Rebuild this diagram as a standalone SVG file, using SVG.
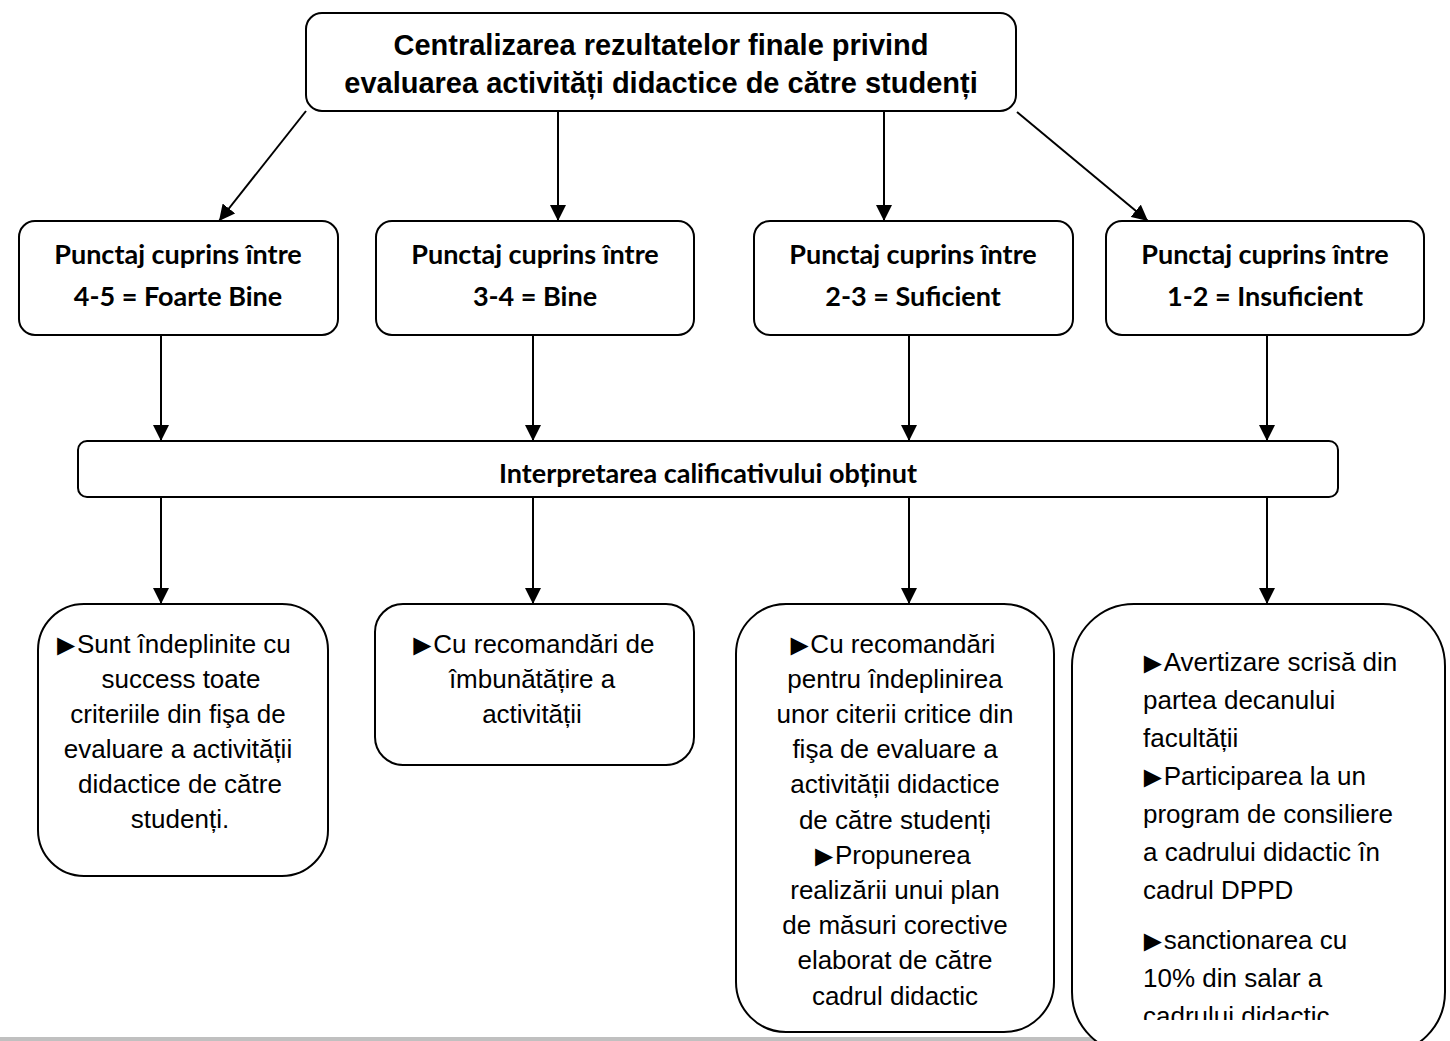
<svg xmlns="http://www.w3.org/2000/svg" width="1450" height="1041" viewBox="0 0 1450 1041">
<style>
.box{fill:#fff;stroke:#000;stroke-width:2}
.cal{font-family:Lato,"Noto Sans",sans-serif;font-weight:700;font-size:27px;fill:#000;text-anchor:middle}
.ttl{font-family:"Liberation Sans",Arial,sans-serif;font-weight:700;font-size:29px;fill:#000;text-anchor:middle}
.txt{font-family:"Liberation Sans",Arial,sans-serif;font-size:26px;fill:#000}
.c{text-anchor:middle}
.b{font-family:"Noto Sans CJK SC",sans-serif;font-size:30px}
.conn line{stroke:#000;stroke-width:2}
</style>
<defs>
<marker id="ah" markerUnits="userSpaceOnUse" markerWidth="16" markerHeight="16" viewBox="0 0 10 10" refX="10" refY="5" orient="auto">
<path d="M0,0 L10,5 L0,10 z" fill="#000"/>
</marker>
<clipPath id="clipD"><rect x="1080" y="600" width="360" height="420"/></clipPath>
</defs>
<rect x="0" y="1037" width="1103" height="4" fill="#c0c0c0"/>

<g id="top">
<rect class="box" x="306" y="13" width="710" height="98" rx="16"/>
<text class="ttl" x="661" y="55">Centralizarea rezultatelor finale privind</text>
<text class="ttl" x="661" y="93">evaluarea activități didactice de către studenți</text>
</g>

<g id="p1">
<rect class="box" x="19" y="221" width="319" height="114" rx="16"/>
<text class="cal" x="178" y="264">Punctaj cuprins între</text>
<text class="cal" x="178" y="306">4-5 = Foarte Bine</text>
</g>
<g id="p2">
<rect class="box" x="376" y="221" width="318" height="114" rx="16"/>
<text class="cal" x="535" y="264">Punctaj cuprins între</text>
<text class="cal" x="535" y="306">3-4 = Bine</text>
</g>
<g id="p3">
<rect class="box" x="754" y="221" width="319" height="114" rx="16"/>
<text class="cal" x="913" y="264">Punctaj cuprins între</text>
<text class="cal" x="913" y="306">2-3 = Suficient</text>
</g>
<g id="p4">
<rect class="box" x="1106" y="221" width="318" height="114" rx="16"/>
<text class="cal" x="1265" y="264">Punctaj cuprins între</text>
<text class="cal" x="1265" y="306">1-2 = Insuficient</text>
</g>

<g id="interp">
<rect class="box" x="78" y="441" width="1260" height="56" rx="9"/>
<text class="cal" x="708" y="483">Interpretarea calificativului obținut</text>
</g>

<g id="r1">
<rect class="box" x="38" y="604" width="290" height="272" rx="46"/>
<text class="txt c" x="176" y="653"><tspan class="b" dx="-5" dy="2">►</tspan><tspan dx="-4" dy="-2">Sunt îndeplinite cu</tspan></text>
<text class="txt c" x="181" y="688">success toate</text>
<text class="txt c" x="178" y="723">criteriile din fişa de</text>
<text class="txt c" x="178" y="758">evaluare a activității</text>
<text class="txt c" x="180" y="793">didactice de către</text>
<text class="txt c" x="180" y="828">studenți.</text>
</g>
<g id="r2">
<rect class="box" x="375" y="604" width="319" height="161" rx="28"/>
<text class="txt c" x="536" y="653"><tspan class="b" dx="-5" dy="2">►</tspan><tspan dx="-4" dy="-2">Cu recomandări de</tspan></text>
<text class="txt c" x="532" y="688">îmbunătățire a</text>
<text class="txt c" x="532" y="723">activității</text>
</g>
<g id="r3">
<rect class="box" x="736" y="604" width="318" height="428" rx="50"/>
<text class="txt c" x="895" y="653"><tspan class="b" dx="-5" dy="2">►</tspan><tspan dx="-4" dy="-2">Cu recomandări</tspan></text>
<text class="txt c" x="895" y="688">pentru îndeplinirea</text>
<text class="txt c" x="895" y="723">unor citerii critice din</text>
<text class="txt c" x="895" y="758">fişa de evaluare a</text>
<text class="txt c" x="895" y="793">activității didactice</text>
<text class="txt c" x="895" y="829">de către studenți</text>
<text class="txt c" x="895" y="864"><tspan class="b" dx="-5" dy="2">►</tspan><tspan dx="-4" dy="-2">Propunerea</tspan></text>
<text class="txt c" x="895" y="899">realizării unui plan</text>
<text class="txt c" x="895" y="934">de măsuri corective</text>
<text class="txt c" x="895" y="969">elaborat de către</text>
<text class="txt c" x="895" y="1005">cadrul didactic</text>
</g>
<g id="r4">
<rect class="box" x="1072" y="604" width="373" height="450" rx="62"/>
<g clip-path="url(#clipD)">
<text class="txt" x="1143" y="671"><tspan class="b" dx="-5" dy="2">►</tspan><tspan dx="-4" dy="-2">Avertizare scrisă din</tspan></text>
<text class="txt" x="1143" y="709">partea decanului</text>
<text class="txt" x="1143" y="747">facultății</text>
<text class="txt" x="1143" y="785"><tspan class="b" dx="-5" dy="2">►</tspan><tspan dx="-4" dy="-2">Participarea la un</tspan></text>
<text class="txt" x="1143" y="823">program de consiliere</text>
<text class="txt" x="1143" y="861">a cadrului didactic în</text>
<text class="txt" x="1143" y="899">cadrul DPPD</text>
<text class="txt" x="1143" y="949"><tspan class="b" dx="-5" dy="2">►</tspan><tspan dx="-4" dy="-2">sanctionarea cu</tspan></text>
<text class="txt" x="1143" y="987">10% din salar a</text>
<text class="txt" x="1143" y="1025">cadrului didactic</text>
</g>
</g>

<g id="connectors" class="conn">
<line x1="306" y1="111" x2="219" y2="221" marker-end="url(#ah)"/>
<line x1="558" y1="111" x2="558" y2="221" marker-end="url(#ah)"/>
<line x1="884" y1="111" x2="884" y2="221" marker-end="url(#ah)"/>
<line x1="1017" y1="112" x2="1148" y2="221" marker-end="url(#ah)"/>
<line x1="161" y1="335" x2="161" y2="441" marker-end="url(#ah)"/>
<line x1="533" y1="335" x2="533" y2="441" marker-end="url(#ah)"/>
<line x1="909" y1="335" x2="909" y2="441" marker-end="url(#ah)"/>
<line x1="1267" y1="335" x2="1267" y2="441" marker-end="url(#ah)"/>
<line x1="161" y1="497" x2="161" y2="604" marker-end="url(#ah)"/>
<line x1="533" y1="497" x2="533" y2="604" marker-end="url(#ah)"/>
<line x1="909" y1="497" x2="909" y2="604" marker-end="url(#ah)"/>
<line x1="1267" y1="497" x2="1267" y2="604" marker-end="url(#ah)"/>
</g>
</svg>
